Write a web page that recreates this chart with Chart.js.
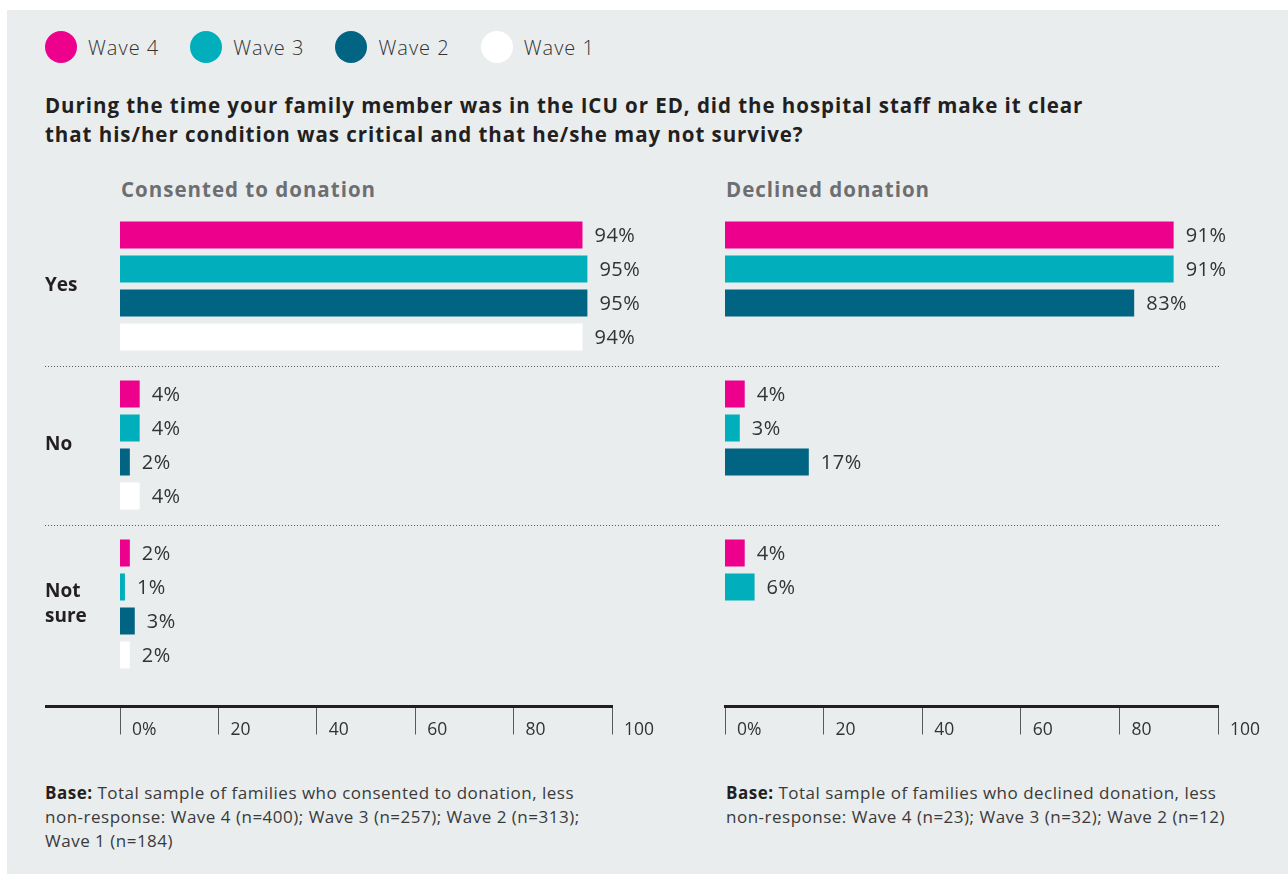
<!DOCTYPE html>
<html>
<head>
<meta charset="utf-8">
<title>Critical condition made clear</title>
<script src="https://cdn.jsdelivr.net/npm/chart.js@4.4.1/dist/chart.umd.min.js"></script>
<style>
  body {
    margin: 0;
    width: 1288px;
    height: 874px;
    background: #ffffff;
    font-family: "Open Sans", "Noto Sans", sans-serif;
    color: #231f20;
    position: relative;
    overflow: hidden;
  }
  #panel {
    position: absolute;
    left: 7px;
    top: 10px;
    width: 1281px;
    height: 864px;
    background: #e9edee;
  }
  #legend {
    position: absolute;
    left: 45px;
    top: 31px;
    display: flex;
    align-items: center;
    height: 32px;
  }
  .legend-item {
    display: flex;
    align-items: center;
    margin-right: 31px;
  }
  .legend-dot {
    width: 32px;
    height: 32px;
    border-radius: 50%;
    margin-right: 11px;
  }
  .legend-text {
    font-size: 20px;
    font-weight: 300;
    letter-spacing: 1px;
    color: #333333;
  }
  #question {
    position: absolute;
    left: 45px;
    top: 91px;
    font-size: 20.5px;
    font-weight: 700;
    letter-spacing: 0.95px;
    line-height: 29px;
    margin: 0;
  }
  .subhead {
    position: absolute;
    top: 175px;
    font-size: 20.5px;
    font-weight: 700;
    letter-spacing: 1px;
    line-height: 28px;
    color: #6d6e71;
  }
  .base {
    position: absolute;
    top: 781px;
    font-size: 17px;
    letter-spacing: 0.5px;
    line-height: 24px;
    color: #3a3a3a;
  }
  .base b { color: #231f20; }
  canvas { position: absolute; top: 150px; }
  #consented-chart { left: 0; }
  #declined-chart { left: 690px; }
</style>
</head>
<body>
<div id="panel"></div>
<div id="legend"></div>
<p id="question">During the time your family member was in the ICU or ED, did the hospital staff make it clear<br>that his/her condition was critical and that he/she may not survive?</p>
<div class="subhead" style="left:121px">Consented to donation</div>
<div class="subhead" style="left:726px">Declined donation</div>
<canvas id="consented-chart" width="690" height="620"></canvas>
<canvas id="declined-chart" width="598" height="620"></canvas>
<div class="base" style="left:45px"><b>Base:</b> Total sample of families who consented to donation, less<br>non-response: Wave 4 (n=400); Wave 3 (n=257); Wave 2 (n=313);<br>Wave 1 (n=184)</div>
<div class="base" style="left:726px"><b>Base:</b> Total sample of families who declined donation, less<br>non-response: Wave 4 (n=23); Wave 3 (n=32); Wave 2 (n=12)</div>

<script>
const answers = ['Yes', 'No', ['Not', 'sure']];
const waves = ['Wave 4', 'Wave 3', 'Wave 2', 'Wave 1'];
const waveColors = ['#ec008c', '#00afbb', '#006482', '#ffffff'];

// % of families per answer, one row per wave (same order as `waves`)
const consented = [
    [94, 4, 2],
    [95, 4, 1],
    [95, 2, 3],
    [94, 4, 2]
];
const declined = [
    [91, 4, 4],
    [91, 3, 6],
    [83, 17, null],
    [null, null, null]
];

const xTicks = [0, 20, 40, 60, 80, 100];
const xTickLabels = ['0%', '20', '40', '60', '80', '100'];

// shared legend for both panels
const legendBox = document.getElementById('legend');
waves.forEach((name, i) => {
    const item = document.createElement('div');
    item.className = 'legend-item';
    item.innerHTML = `<span class="legend-dot" style="background:${waveColors[i]}"></span><span class="legend-text">${name}</span>`;
    legendBox.appendChild(item);
});

// value labels, dotted rules between answers, axis stub under the answer labels
const panelDecor = {
    id: 'panelDecor',
    afterDatasetsDraw(chart) {
        const ctx = chart.ctx;
        ctx.save();
        ctx.font = '400 20px "Open Sans"';
        ctx.letterSpacing = '0.5px';
        ctx.fillStyle = '#333333';
        ctx.textBaseline = 'middle';
        ctx.textAlign = 'left';
        chart.data.datasets.forEach((ds, di) => {
            chart.getDatasetMeta(di).data.forEach((bar, i) => {
                const v = ds.data[i];
                if (v === null || v === undefined) return;
                ctx.fillText(`${v}%`, bar.x + 12, bar.y + 1);
            });
        });
        ctx.restore();
    },
    afterDraw(chart, args, opts) {
        const ctx = chart.ctx;
        const yScale = chart.scales.y;
        const axis = chart.scales.x2;
        ctx.save();
        ctx.strokeStyle = '#58595b';
        ctx.lineWidth = 1;
        ctx.setLineDash([1, 2]);
        for (let i = 0; i < answers.length - 1; i++) {
            const py = Math.round((yScale.getPixelForValue(i) + yScale.getPixelForValue(i + 1)) / 2) + 0.5;
            ctx.beginPath();
            ctx.moveTo(opts.ruleFrom, py);
            ctx.lineTo(opts.ruleTo, py);
            ctx.stroke();
        }
        if (opts.axisFrom < chart.chartArea.left) {
            const ay = Math.round(axis.top - 1.5) + 1.5;
            ctx.setLineDash([]);
            ctx.lineWidth = 3;
            ctx.strokeStyle = '#231f20';
            ctx.beginPath();
            ctx.moveTo(opts.axisFrom, ay);
            ctx.lineTo(chart.chartArea.left + 1, ay);
            ctx.stroke();
        }
        ctx.restore();
    }
};

function buildDatasets(rows) {
    return waves.map((name, i) => ({
        label: name,
        data: rows[i],
        backgroundColor: waveColors[i],
        borderWidth: 0,
        categoryPercentage: 0.855,
        barPercentage: 0.794
    }));
}

function makePanel(canvasId, rows, showAnswers, padding, decor) {
    return new Chart(document.getElementById(canvasId), {
        type: 'bar',
        data: {
            labels: answers,
            datasets: buildDatasets(rows)
        },
        plugins: [panelDecor],
        options: {
            indexAxis: 'y',
            responsive: false,
            animation: false,
            layout: { padding: padding },
            scales: {
                y: {
                    display: showAnswers,
                    grid: { display: false },
                    border: { display: false },
                    ticks: {
                        crossAlign: 'far',
                        color: '#231f20',
                        font: { family: 'Open Sans', size: 19, weight: '700', lineHeight: 1.32 }
                    },
                    afterFit: scale => { scale.width = showAnswers ? 75 : 0; }
                },
                x: {
                    position: 'bottom',
                    min: 0,
                    max: 100,
                    grid: { display: false },
                    border: { display: false },
                    ticks: { display: false },
                    afterFit: scale => { scale.height = 23; }
                },
                x2: {
                    type: 'linear',
                    position: 'bottom',
                    weight: 1,
                    min: 0,
                    max: 100,
                    afterBuildTicks: scale => {
                        scale.ticks = xTicks.map(v => ({ value: v }));
                    },
                    grid: {
                        drawOnChartArea: false,
                        drawTicks: true,
                        tickLength: 28,
                        color: '#58595b',
                        lineWidth: 1
                    },
                    border: { display: true, width: 3, color: '#231f20' },
                    ticks: {
                        align: 'start',
                        labelOffset: 12,
                        padding: -15,
                        color: '#333333',
                        font: { family: 'Open Sans', size: 17.5, weight: '400' },
                        callback: (value, index) => xTickLabels[index]
                    },
                    afterFit: scale => { scale.height = 50; }
                }
            },
            plugins: {
                legend: { display: false },
                tooltip: { enabled: false },
                panelDecor: decor
            }
        }
    });
}

makePanel('consented-chart', consented, true,
    { left: 45, right: 78, top: 56.5, bottom: 13.5 },
    { ruleFrom: 45, ruleTo: 690, axisFrom: 45 });

makePanel('declined-chart', declined, false,
    { left: 35, right: 70, top: 56.5, bottom: 13.5 },
    { ruleFrom: 0, ruleTo: 529, axisFrom: 35 });
</script>
</body>
</html>
